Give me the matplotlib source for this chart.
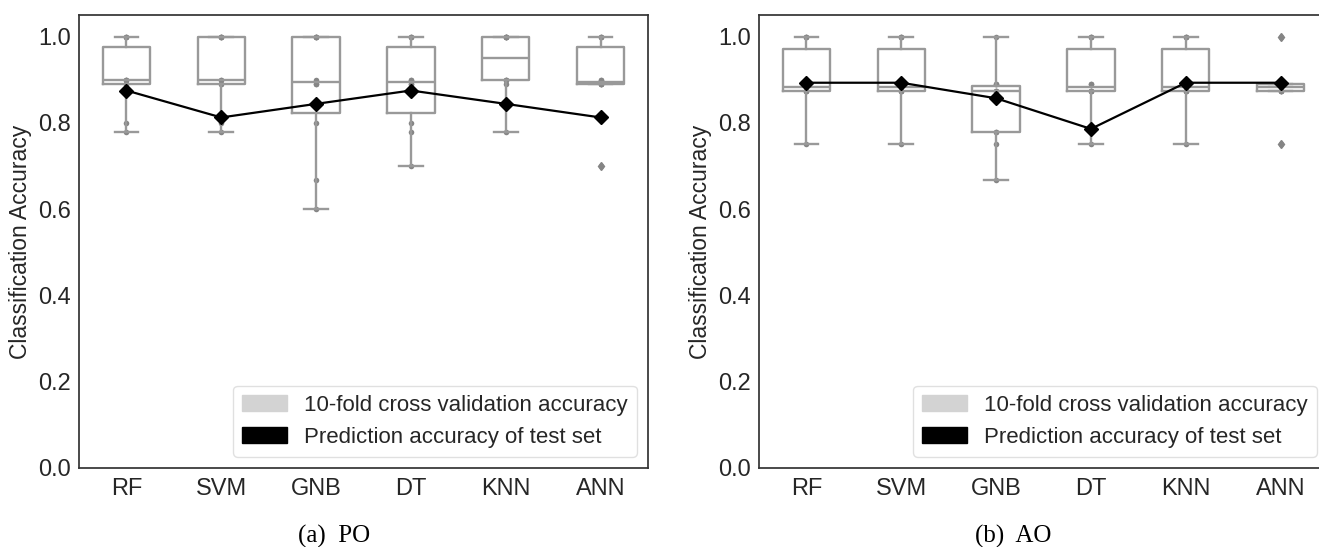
import matplotlib.pyplot as plt
from matplotlib.patches import Patch
import numpy as np

plt.rcParams['font.family'] = ['Liberation Sans', 'DejaVu Sans']

models = ['RF', 'SVM', 'GNB', 'DT', 'KNN', 'ANN']

# 10-fold cross validation scores, PO
po_rf = [0.778, 0.8, 0.889, 0.889, 0.9, 0.9, 0.9, 1.0, 1.0, 1.0]
po_svm = [0.778, 0.8, 0.889, 0.889, 0.9, 0.9, 1.0, 1.0, 1.0, 1.0]
po_gnb = [0.6, 0.667, 0.8, 0.889, 0.889, 0.9, 1.0, 1.0, 1.0, 1.0]
po_dt = [0.7, 0.778, 0.8, 0.889, 0.889, 0.9, 0.9, 1.0, 1.0, 1.0]
po_knn = [0.778, 0.889, 0.9, 0.9, 0.9, 1.0, 1.0, 1.0, 1.0, 1.0]
po_ann = [0.7, 0.889, 0.889, 0.889, 0.889, 0.9, 0.9, 1.0, 1.0, 1.0]
po_test = [0.875, 0.8125, 0.844, 0.875, 0.844, 0.8125]

# 10-fold cross validation scores, AO
ao_rf = [0.75, 0.875, 0.875, 0.875, 0.875, 0.889, 0.889, 1.0, 1.0, 1.0]
ao_svm = [0.75, 0.875, 0.875, 0.875, 0.875, 0.889, 0.889, 1.0, 1.0, 1.0]
ao_gnb = [0.667, 0.75, 0.778, 0.778, 0.875, 0.875, 0.875, 0.889, 0.889, 1.0]
ao_dt = [0.75, 0.875, 0.875, 0.875, 0.875, 0.889, 0.889, 1.0, 1.0, 1.0]
ao_knn = [0.75, 0.875, 0.875, 0.875, 0.875, 0.889, 0.889, 1.0, 1.0, 1.0]
ao_ann = [0.75, 0.875, 0.875, 0.875, 0.875, 0.889, 0.889, 0.889, 0.889, 1.0]
ao_test = [0.893, 0.893, 0.857, 0.786, 0.893, 0.893]

yticks = [0.0, 0.2, 0.4, 0.6, 0.8, 1.0]
captions = ['(a)  PO', '(b)  AO']

box_col = '0.6'
dot_col = '0.52'
fs = 16.5

fig = plt.figure(figsize=(13.19, 5.47), dpi=100)
W, H = 1319, 547
ax1 = fig.add_axes([79 / W, 1 - 468 / H, 569 / W, 453 / H])
ax2 = fig.add_axes([759 / W, 1 - 468 / H, 569 / W, 453 / H])


def draw_panel(ax, cv, test):
    pos = np.arange(len(models))
    for i, vals in enumerate(cv):
        ax.plot(np.full(len(vals), i), vals, 'o', color=dot_col, ms=4,
                mec='none', zorder=2)
    ax.boxplot(cv, positions=pos, widths=0.5, whis=1.5,
               boxprops=dict(color=box_col, lw=1.7),
               whiskerprops=dict(color=box_col, lw=1.7),
               capprops=dict(color=box_col, lw=1.7),
               medianprops=dict(color=box_col, lw=1.7),
               flierprops=dict(marker='d', mfc=dot_col, mec=dot_col, ms=4.5),
               zorder=3)
    ax.plot(pos, test, '-D', color='black', lw=1.6, ms=7, zorder=5)

    ax.set_xlim(-0.5, 5.5)
    ax.set_ylim(0, 1.05)
    ax.set_xticks(pos)
    ax.set_xticklabels(models)
    ax.set_yticks(yticks)
    ax.set_yticklabels([f'{t:.1f}' for t in yticks])
    ax.tick_params(length=0, labelsize=fs + 0.5, colors='0.15')
    ax.tick_params(axis='x', pad=7)
    ax.tick_params(axis='y', pad=6)
    for s in ax.spines.values():
        s.set_color('0.2')
        s.set_linewidth(1.25)
    ax.set_ylabel('Classification Accuracy', fontsize=fs, color='0.15', labelpad=4)

    handles = [Patch(color='lightgray', label='10-fold cross validation accuracy'),
               Patch(color='black', label='Prediction accuracy of test set')]
    leg = ax.legend(handles=handles, loc='lower right', fontsize=16,
                    frameon=True, fancybox=True, borderaxespad=0.5)
    leg.get_frame().set_edgecolor('0.85')
    for t in leg.get_texts():
        t.set_color('0.15')


draw_panel(ax1, [po_rf, po_svm, po_gnb, po_dt, po_knn, po_ann], po_test)
draw_panel(ax2, [ao_rf, ao_svm, ao_gnb, ao_dt, ao_knn, ao_ann], ao_test)

fig.text(334 / W, 1 - 536 / H, captions[0], ha='center', va='center',
         fontsize=18, family='Liberation Serif')
fig.text(1013 / W, 1 - 536 / H, captions[1], ha='center', va='center',
         fontsize=18, family='Liberation Serif')

fig.savefig('out.png', dpi=100)
